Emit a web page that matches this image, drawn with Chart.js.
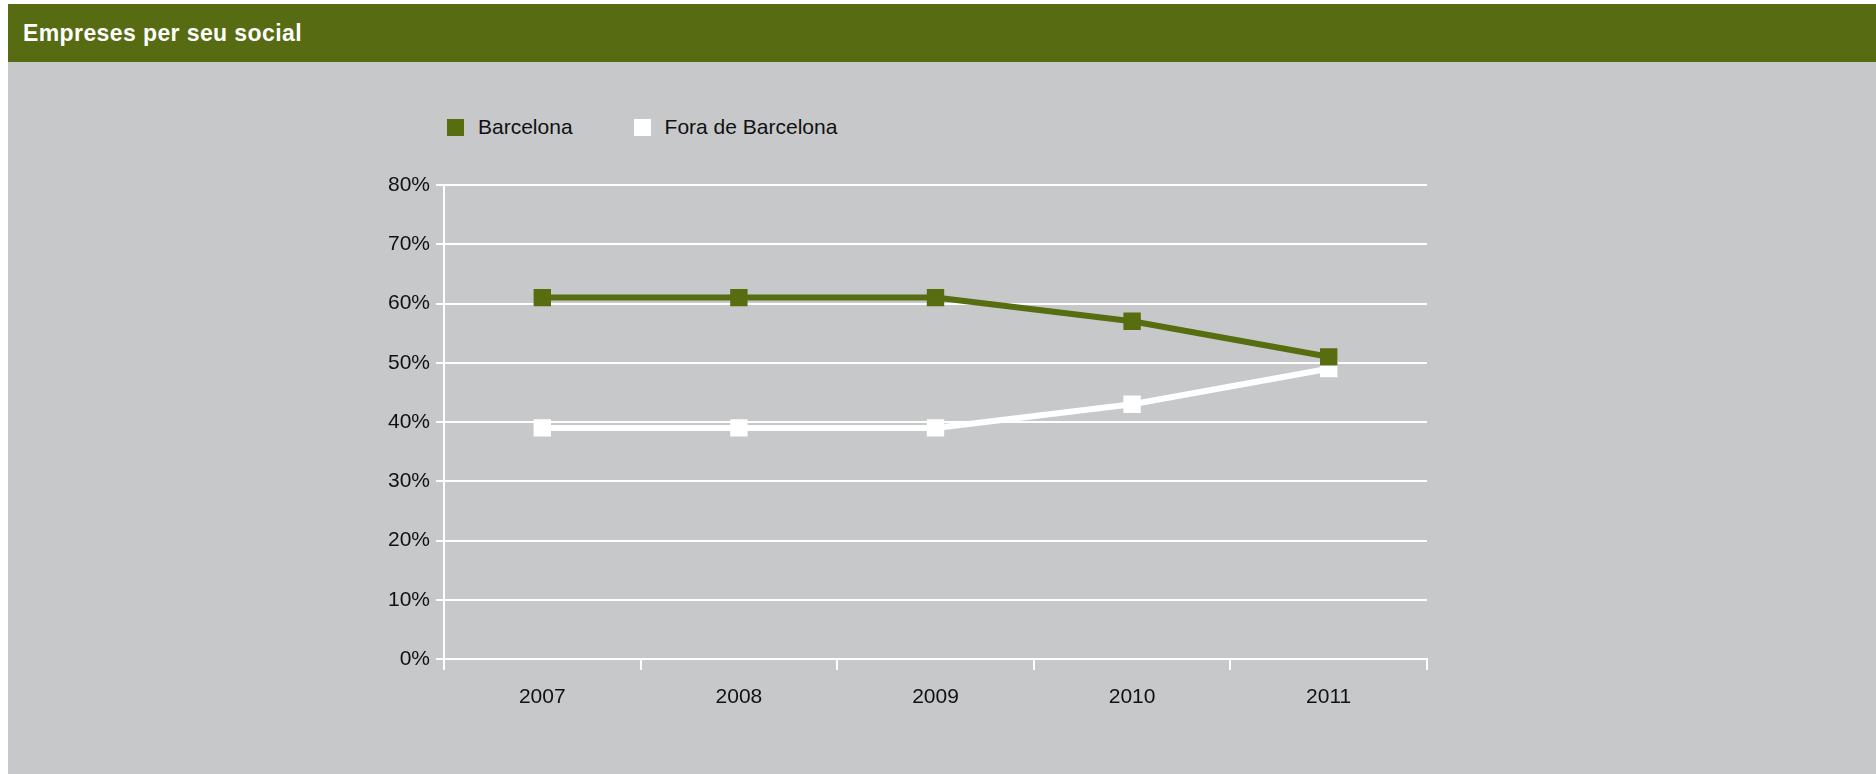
<!DOCTYPE html>
<html lang="ca">
<head>
  <meta charset="UTF-8" />
  <title>Empreses per seu social</title>
  <script src="https://cdn.jsdelivr.net/npm/chart.js"></script>
  <style>
    * {
      box-sizing: border-box;
      margin: 0;
      padding: 0;
      font-family: 'Liberation Sans', Arial, Helvetica, sans-serif;
    }

    body {
      width: 1876px;
      height: 774px;
      background: white;
      position: relative;
      overflow: hidden;
    }

    .header {
      position: absolute;
      left: 8px;
      top: 4px;
      right: 0;
      height: 58px;
      background: #566b12;
      color: white;
      font-weight: bold;
      font-size: 23px;
      letter-spacing: 0.4px;
      line-height: 58px;
      padding-left: 15px;
    }

    .panel {
      position: absolute;
      left: 8px;
      top: 62px;
      right: 0;
      bottom: 0;
      background: #c7c8ca;
    }

    .legend {
      position: absolute;
      left: 447px;
      top: 115px;
      display: flex;
      font-size: 21px;
      color: #111;
    }

    .legend-item {
      display: flex;
      align-items: center;
      margin-right: 61px;
    }

    .legend-box {
      width: 17px;
      height: 17px;
      margin-right: 14px;
    }

    canvas {
      position: absolute;
      left: 0;
      top: 0;
    }
  </style>
</head>
<body>
  <div class="header">Empreses per seu social</div>
  <div class="panel"></div>
  <div class="legend" id="legend"></div>
  <canvas id="seuChart" width="1876" height="774"></canvas>

<script>
  const anys = ['2007', '2008', '2009', '2010', '2011'];
  const barcelona = [61, 61, 61, 57, 51];
  const foraBarcelona = [39, 39, 39, 43, 49];

  const verd = '#576d10';
  const blanc = '#ffffff';
  const font = { family: "'Liberation Sans', Arial, Helvetica, sans-serif", size: 21 };

  const datasets = [
    { label: 'Barcelona', data: barcelona, color: verd },
    { label: 'Fora de Barcelona', data: foraBarcelona, color: blanc }
  ].map(d => ({
    label: d.label,
    data: d.data,
    borderColor: d.color,
    backgroundColor: d.color,
    borderWidth: 6,
    pointStyle: 'rect',
    pointRadius: 12.3,
    pointHoverRadius: 12.3,
    pointBorderWidth: 0,
    tension: 0
  }));

  // llegenda en html
  const legend = document.getElementById('legend');
  datasets.forEach(ds => {
    const item = document.createElement('div');
    item.className = 'legend-item';
    const box = document.createElement('span');
    box.className = 'legend-box';
    box.style.background = ds.backgroundColor;
    const txt = document.createElement('span');
    txt.textContent = ds.label;
    item.appendChild(box);
    item.appendChild(txt);
    legend.appendChild(item);
  });

  const ctx = document.getElementById('seuChart').getContext('2d');
  new Chart(ctx, {
    type: 'line',
    data: { labels: anys, datasets },
    options: {
      responsive: false,
      animation: false,
      layout: {
        padding: { left: 384, right: 449, top: 185, bottom: 55 }
      },
      plugins: {
        legend: { display: false },
        tooltip: { enabled: false }
      },
      scales: {
        x: {
          offset: true,
          afterFit: s => { s.height = 60; },
          grid: {
            offset: true,
            drawOnChartArea: false,
            drawTicks: true,
            tickLength: 11,
            color: blanc,
            lineWidth: 2
          },
          border: { color: blanc, width: 2 },
          ticks: { font, color: '#111', padding: 15 }
        },
        y: {
          min: 0,
          max: 80,
          afterFit: s => { s.width = 60; },
          grid: { color: blanc, lineWidth: 2, tickLength: 8 },
          border: { color: blanc, width: 2 },
          ticks: {
            stepSize: 10,
            font,
            color: '#111',
            padding: 6,
            callback: v => v + '%'
          }
        }
      }
    }
  });
</script>
</body>
</html>
